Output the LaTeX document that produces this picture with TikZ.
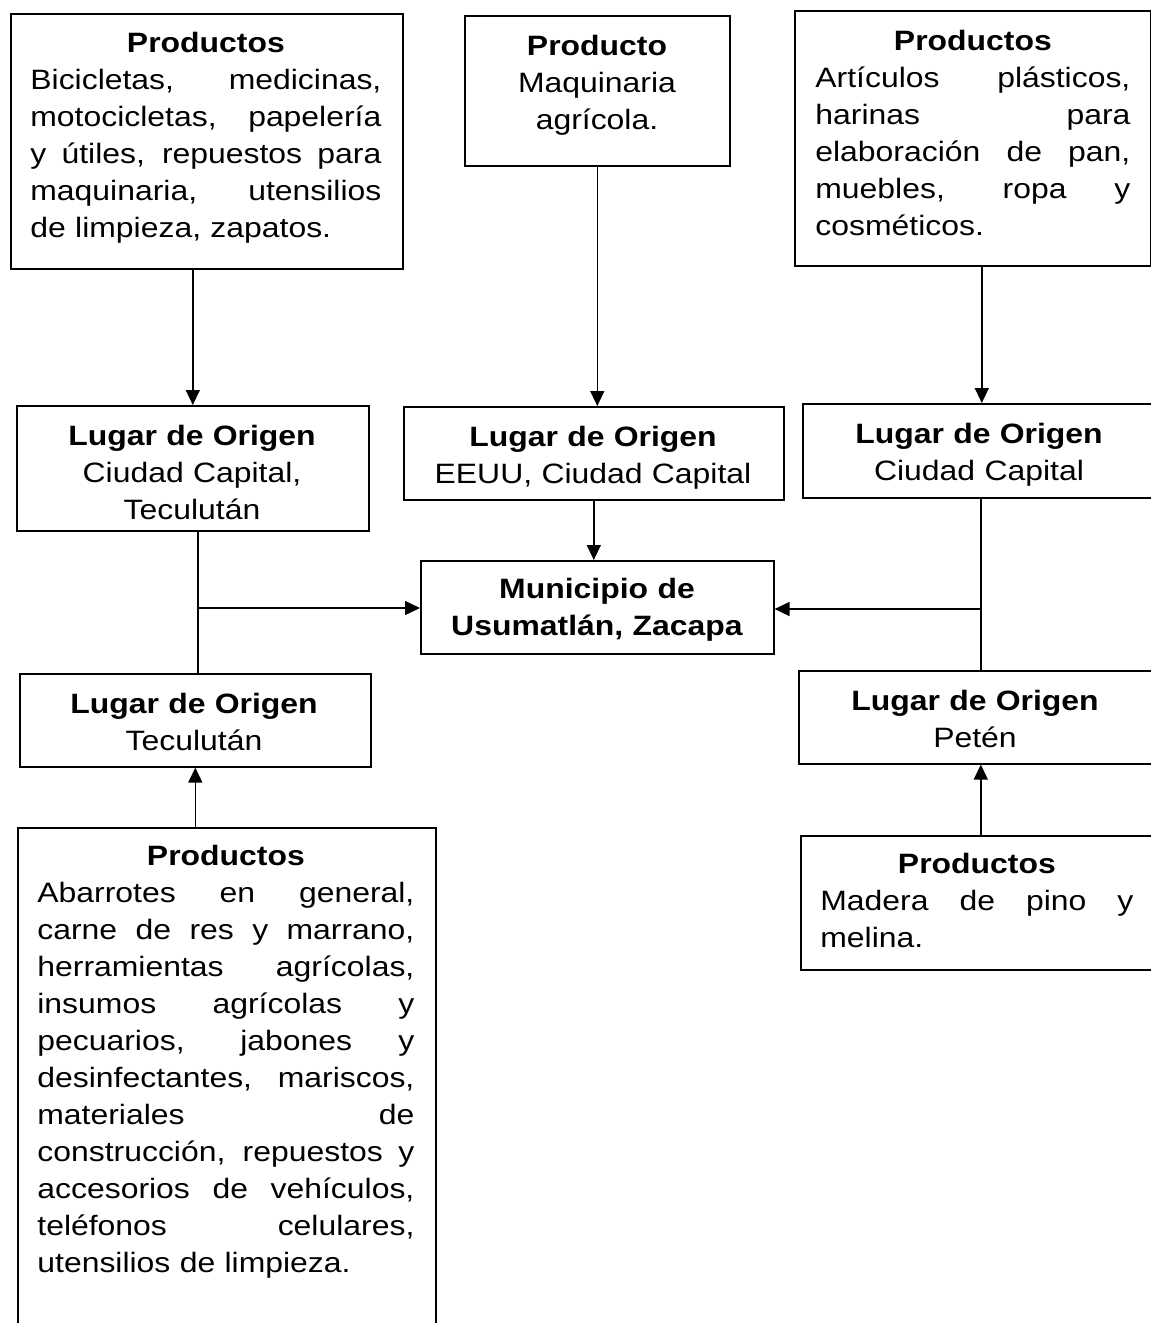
\documentclass[tikz,border=0pt]{standalone}
\usepackage{fontspec}
\setmainfont{Liberation Sans}[FakeStretch=1.14]
\usetikzlibrary{arrows.meta}
\newcommand{\jline}[1]{{\spaceskip=0.3em plus 1fil\relax\makebox[\hsize][s]{#1}}}
\newcommand{\hdline}[1]{\makebox[\hsize][c]{\bfseries #1}}
\begin{document}
\begin{tikzpicture}[x=0.5pt,y=-0.5pt,
  box/.style={draw, line width=0.8pt, rectangle, inner sep=0pt, anchor=north west},
  txt/.style={inner sep=0pt, anchor=base west, align=left, font=\fontsize{14pt}{18.5pt}\selectfont},
  ctxt/.style={inner sep=0pt, anchor=base, align=center, text width=170pt, font=\fontsize{14pt}{18.5pt}\selectfont},
  conn/.style={line width=0.7pt},
  arr/.style={line width=0.7pt, -{Triangle[length=7.5pt,width=7pt]}}]
\useasboundingbox (0,0) rectangle (1151,1323);
\clip (0,0) rectangle (1151,1323);
% boxes
\node[box, minimum width=196pt, minimum height=127.5pt] (TL) at (10,13) {};
\node[box, minimum width=132.5pt, minimum height=75pt] (TM) at (464,15) {};
\node[box, minimum width=178pt, minimum height=127.5pt] (TR) at (794,10) {};
\node[box, minimum width=176pt, minimum height=62.5pt] (L1) at (16,405) {};
\node[box, minimum width=190pt, minimum height=46.5pt] (LM) at (403,406) {};
\node[box, minimum width=179pt, minimum height=47pt] (R1) at (802,403) {};
\node[box, minimum width=176.5pt, minimum height=46.5pt] (Mun) at (420,560) {};
\node[box, minimum width=175.5pt, minimum height=46.5pt] (L2) at (19,673) {};
\node[box, minimum width=181pt, minimum height=46.5pt] (R2) at (798,670) {};
\node[box, minimum width=209pt, minimum height=256.5pt] (BL) at (17,827) {};
\node[box, minimum width=180pt, minimum height=67pt] (BR) at (800,835) {};
% texts
\node[txt, text width=175.5pt] (tTL) at (30,52) {\hdline{Productos}\\
\jline{Bicicletas, medicinas,}\\
\jline{motocicletas, papelería}\\
\jline{y útiles, repuestos para}\\
\jline{maquinaria, utensilios}\\
de limpieza, zapatos.};
\node[ctxt, text width=130pt] (tTM) at (597,55) {\textbf{Producto}\\Maquinaria\\agrícola.};
\node[txt, text width=157.5pt] (tTR) at (815,50) {\hdline{Productos}\\
\jline{Artículos plásticos,}\\
\jline{harinas para}\\
\jline{elaboración de pan,}\\
\jline{muebles, ropa y}\\
cosméticos.};
\node[ctxt] (tL1) at (192,445) {\textbf{Lugar de Origen}\\Ciudad Capital,\\Teculután};
\node[ctxt, text width=188pt] (tLM) at (593,446) {\textbf{Lugar de Origen}\\EEUU, Ciudad Capital};
\node[ctxt] (tR1) at (979,443) {\textbf{Lugar de Origen}\\Ciudad Capital};
\node[ctxt] (tMun) at (597,598) {\textbf{Municipio de}\\\textbf{Usumatlán, Zacapa}};
\node[ctxt] (tL2) at (194,713) {\textbf{Lugar de Origen}\\Teculután};
\node[ctxt] (tR2) at (975,710) {\textbf{Lugar de Origen}\\Petén};
\node[txt, text width=188.5pt] (tBL) at (37,865) {\hdline{Productos}\\
\jline{Abarrotes en general,}\\
\jline{carne de res y marrano,}\\
\jline{herramientas agrícolas,}\\
\jline{insumos agrícolas y}\\
\jline{pecuarios, jabones y}\\
\jline{desinfectantes, mariscos,}\\
\jline{materiales de}\\
\jline{construcción, repuestos y}\\
\jline{accesorios de vehículos,}\\
\jline{teléfonos celulares,}\\
utensilios de limpieza.};
\node[txt, text width=156.5pt] (tBR) at (820,873) {\hdline{Productos}\\
\jline{Madera de pino y}\\
melina.};
% junction points
\coordinate (jL) at (198,608);
\coordinate (jR) at (981,609);
% connectors
\draw[arr] (L1.north |- TL.south) -- (L1.north);
\draw[arr] (TM.south) -- (TM.south |- LM.north);
\draw[arr] (R1.north |- TR.south) -- (R1.north);
\draw[arr] (LM.south) -- (LM.south |- Mun.north);
\draw[conn] (jL |- L1.south) -- (jL |- L2.north);
\draw[arr] (jL) -- (jL -| Mun.west);
\draw[conn] (jR |- R1.south) -- (jR |- R2.north);
\draw[arr] (jR) -- (jR -| Mun.east);
\draw[arr] (L2.south |- BL.north) -- (L2.south);
\draw[arr] (BR.north) -- (BR.north |- R2.south);
\end{tikzpicture}
\end{document}
